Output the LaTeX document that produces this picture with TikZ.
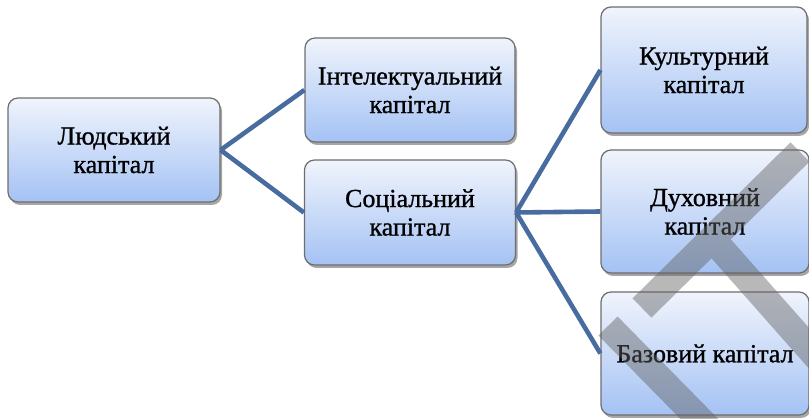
\documentclass[tikz,border=0pt]{standalone}
\usepackage{fontspec}
\setmainfont{Liberation Serif}
\newfontfamily\boxfont[FakeBold=1.0]{Liberation Serif}
\usetikzlibrary{shadows}
\definecolor{linkc}{RGB}{72,108,160}
\definecolor{topc}{RGB}{240,244,252}
\definecolor{botc}{RGB}{164,194,244}
\definecolor{edgec}{RGB}{110,110,110}
\tikzset{
  box/.style={draw=edgec, line width=1.2pt, rounded corners=10pt,
    top color=topc, bottom color=botc, align=center,
    font=\boxfont\fontsize{26}{28.5}\selectfont, inner sep=0pt,
    drop shadow={shadow xshift=2pt, shadow yshift=-3pt, opacity=0.35, fill=black}},
  link/.style={draw=linkc, line width=4.6pt},
  wm/.style={line width=27pt, draw=black!62}
}
\begin{document}
\begin{tikzpicture}[x=1pt,y=-1pt]
\useasboundingbox (0,0) rectangle (809,419);
\node[box, minimum width=212pt, minimum height=104pt] (hum) at (114,150) {Людський\\капітал};
\node[box, minimum width=210pt, minimum height=104pt] (int) at (410,90) {Інтелектуальний\\капітал};
\node[box, minimum width=211pt, minimum height=105pt] (soc) at (410,212.5) {Соціальний\\капітал};
\node[box, minimum width=206pt, minimum height=126pt] (cul) at (704,70) {Культурний\\капітал};
\node[box, minimum width=208pt, minimum height=123pt] (spi) at (705,211.5) {Духовний\\капітал};
\node[box, minimum width=208pt, minimum height=123pt] (bas) at (705,353.5) {Базовий капітал};
\draw[link] (hum.east) -- (int.west);
\draw[link] (hum.east) -- (soc.west);
\draw[link] (soc.east) -- (cul.west);
\draw[link] (soc.east) -- (spi.west);
\draw[link] (soc.east) -- (bas.west);
% watermark
\begin{scope}[transparency group, opacity=0.45]
\clip (0,0) rectangle (809,419);
\coordinate (w1a) at (800,152);
\coordinate (w1b) at (642,308);
\coordinate (w2a) at (716,243);
\coordinate (w2b) at (830,372);
\coordinate (w3a) at (608,326);
\coordinate (w3b) at (720,440);
\draw[wm] (w1a) -- (w1b);
\draw[wm] (w2a) -- (w2b);
\draw[wm] (w3a) -- (w3b);
\end{scope}
\end{tikzpicture}
\end{document}
